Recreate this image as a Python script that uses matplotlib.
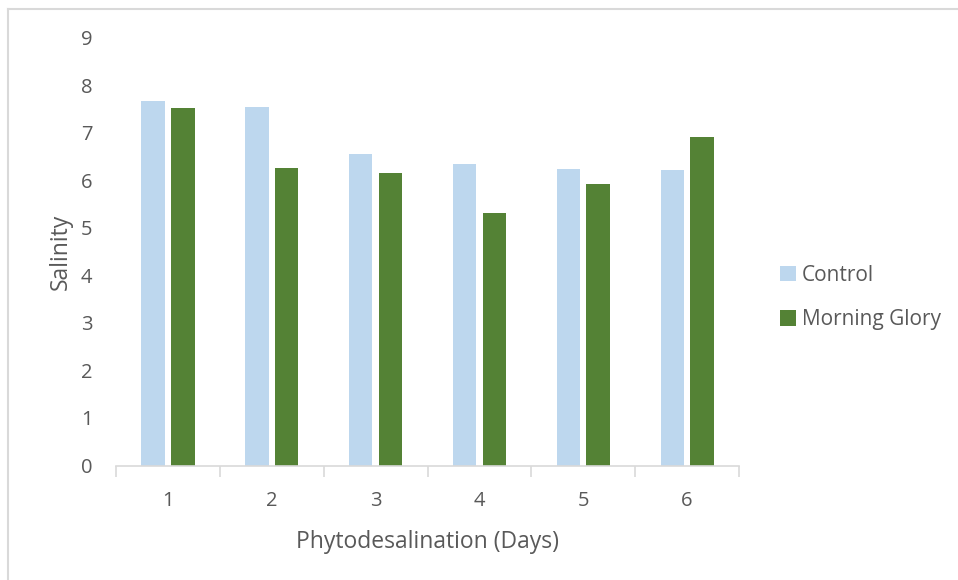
import matplotlib
matplotlib.use("Agg")
import matplotlib.pyplot as plt
import numpy as np
from matplotlib.patches import Patch
from matplotlib.lines import Line2D

days = ["1", "2", "3", "4", "5", "6"]
control = [7.66, 7.53, 6.56, 6.34, 6.23, 6.21]
morning_glory = [7.51, 6.26, 6.15, 5.32, 5.92, 6.91]
y_ticks = [0, 1, 2, 3, 4, 5, 6, 7, 8, 9]

c_control = "#BDD7EE"
c_mg = "#548235"
text_col = "#595959"
axis_col = "#D9D9D9"

plt.rcParams["font.family"] = ["Open Sans", "DejaVu Sans"]

fig = plt.figure(figsize=(9.58, 5.80), dpi=100)
ax = fig.add_axes([0.1211, 0.1974, 0.6503, 0.7379])

x = np.arange(len(days))
w = 0.226
off = 0.143
ax.bar(x - off, control, width=w, color=c_control, label="Control")
ax.bar(x + off, morning_glory, width=w, color=c_mg, label="Morning Glory")

ax.set_xlim(-0.5, len(days) - 0.5)
ax.set_ylim(0, 9)
ax.set_yticks(y_ticks)
ax.set_yticklabels([str(t) for t in y_ticks])
ax.set_xticks(x)
ax.set_xticklabels(days)

for s in ["top", "right", "left"]:
    ax.spines[s].set_visible(False)
ax.spines["bottom"].set_color(axis_col)
ax.spines["bottom"].set_linewidth(1.2)

ax.tick_params(axis="y", length=0, pad=17, labelsize=14.5, labelcolor=text_col)
ax.tick_params(axis="x", which="major", length=0, pad=18, labelsize=14.5, labelcolor=text_col)
# category divider ticks on the x axis
ax.set_xticks(np.arange(-0.5, len(days)), minor=True)
ax.tick_params(axis="x", which="minor", length=8, width=1.2, color=axis_col)

ax.set_xlabel("Phytodesalination (Days)", fontsize=16.5, color=text_col, labelpad=14)
ax.set_ylabel("Salinity", fontsize=16.5, color=text_col, labelpad=6)

handles = [Patch(facecolor=c_control, edgecolor="none"),
           Patch(facecolor=c_mg, edgecolor="none")]
leg = fig.legend(handles, ["Control", "Morning Glory"], loc="center left",
                 bbox_to_anchor=(0.795, 0.487), frameon=False, fontsize=15.0,
                 labelcolor=text_col, handlelength=0.75, handleheight=0.75,
                 handletextpad=0.3, labelspacing=1.12)

# chart frame (top and left edges)
fig.add_artist(Line2D([7.5 / 958, 7.5 / 958], [0, 1 - 8.5 / 580],
                      transform=fig.transFigure, color=axis_col, lw=1.5))
fig.add_artist(Line2D([7.5 / 958, 1], [1 - 8.5 / 580, 1 - 8.5 / 580],
                      transform=fig.transFigure, color=axis_col, lw=1.5))

fig.savefig("out.png", dpi=100, facecolor="white")
